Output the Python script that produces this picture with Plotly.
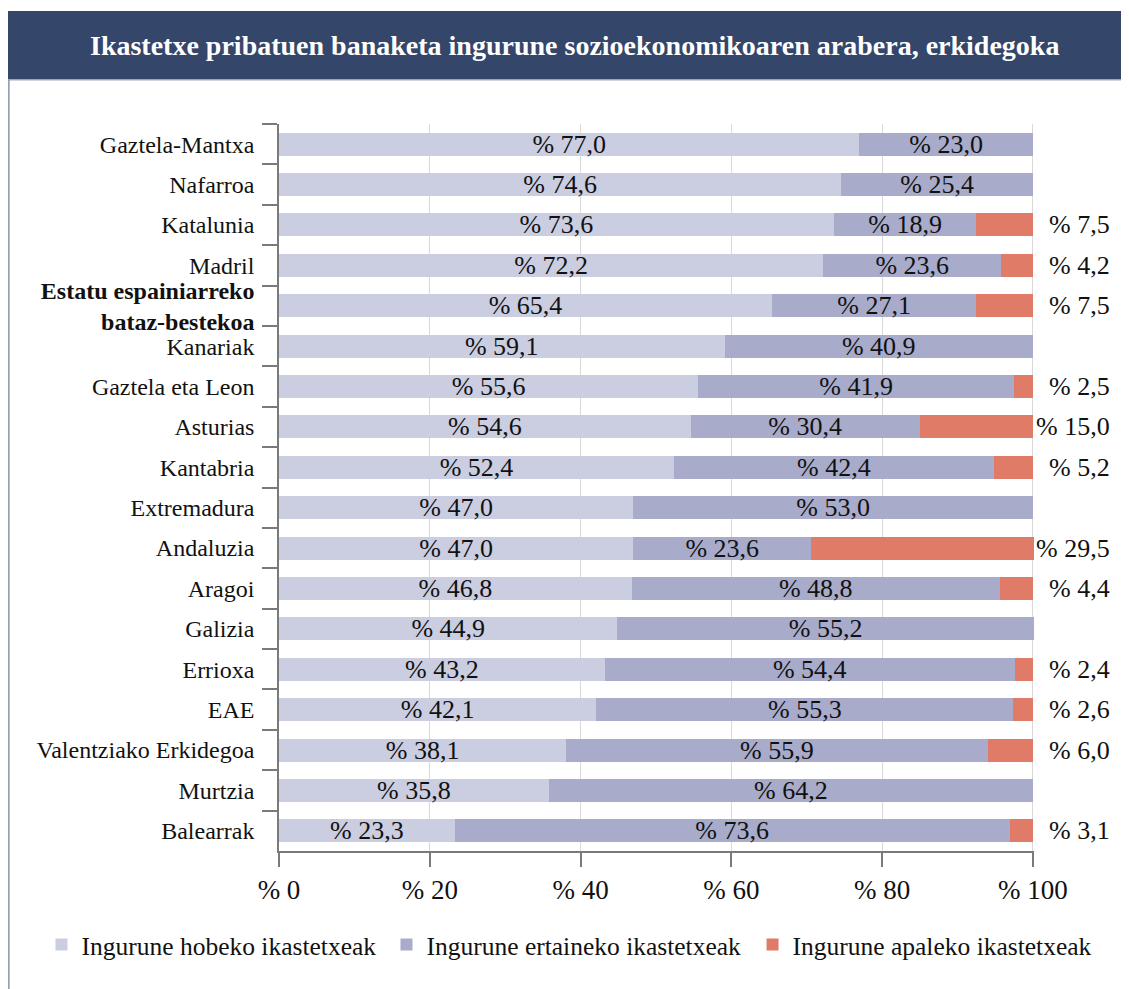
import plotly.graph_objects as go

# -----------------------------------------------------
# Data
# -----------------------------------------------------

regions = [
    "Gaztela-Mantxa",
    "Nafarroa",
    "Katalunia",
    "Madril",
    "<b>Estatu espainiarreko</b><br><b>bataz-bestekoa</b>",
    "Kanariak",
    "Gaztela eta Leon",
    "Asturias",
    "Kantabria",
    "Extremadura",
    "Andaluzia",
    "Aragoi",
    "Galizia",
    "Errioxa",
    "EAE",
    "Valentziako Erkidegoa",
    "Murtzia",
    "Balearrak",
]

hobeko = [77.0, 74.6, 73.6, 72.2, 65.4, 59.1, 55.6, 54.6, 52.4,
          47.0, 47.0, 46.8, 44.9, 43.2, 42.1, 38.1, 35.8, 23.3]
ertaineko = [23.0, 25.4, 18.9, 23.6, 27.1, 40.9, 41.9, 30.4, 42.4,
             53.0, 23.6, 48.8, 55.2, 54.4, 55.3, 55.9, 64.2, 73.6]
apaleko = [0, 0, 7.5, 4.2, 7.5, 0, 2.5, 15.0, 5.2,
           0, 29.5, 4.4, 0, 2.4, 2.6, 6.0, 0, 3.1]

x_ticks = [0, 20, 40, 60, 80, 100]
x_labels = ["% 0", "% 20", "% 40", "% 60", "% 80", "% 100"]

series_names = [
    "Ingurune hobeko ikastetxeak",
    "Ingurune ertaineko ikastetxeak",
    "Ingurune apaleko ikastetxeak",
]

title = "Ikastetxe pribatuen banaketa ingurune sozioekonomikoaren arabera, erkidegoka"

COLORS = ["#cbcde1", "#a8abca", "#e07b67"]
FONT = "Liberation Serif"
INK = "#111111"


def pct(v):
    return "% " + f"{v:.1f}".replace(".", ",")


# -----------------------------------------------------
# Figure
# -----------------------------------------------------

fig = go.Figure()

# legend entry widths for the first legend row
legend_widths = [300, 320]

for vals, name, color, lw in zip(
    [hobeko, ertaineko], series_names[:2], COLORS[:2], legend_widths
):
    fig.add_trace(
        go.Bar(
            y=regions,
            x=vals,
            name=name,
            orientation="h",
            marker=dict(color=color, line=dict(width=0)),
            text=[pct(v) for v in vals],
            textposition="inside",
            insidetextanchor="middle",
            constraintext="none",
            textfont=dict(family=FONT, size=26, color=INK),
            width=0.57,
            cliponaxis=False,
            legendwidth=lw,
            legend="legend",
        )
    )

# third series goes into a second legend box placed on the same row
fig.add_trace(
    go.Bar(
        y=regions,
        x=apaleko,
        name=series_names[2],
        orientation="h",
        marker=dict(color=COLORS[2], line=dict(width=0)),
        width=0.57,
        cliponaxis=False,
        legend="legend2",
    )
)

# red value labels, right of the 100 line
for region, v in zip(regions, apaleko):
    if v > 0:
        fig.add_annotation(
            x=100,
            y=region,
            xref="x",
            yref="y",
            text=pct(v),
            showarrow=False,
            xanchor="right",
            xshift=79,
            font=dict(family=FONT, size=26, color=INK),
        )

# -----------------------------------------------------
# Title banner and frame
# -----------------------------------------------------

fig.add_shape(
    type="rect",
    xref="paper", yref="paper",
    x0=-0.362, x1=1.13,
    y0=1.0605, y1=1.1555,
    fillcolor="#344669",
    line=dict(width=0),
    layer="above",
)

fig.add_shape(
    type="line",
    xref="paper", yref="paper",
    x0=-0.36, x1=1.13,
    y0=1.0605, y1=1.0605,
    line=dict(color="#c4c7d2", width=1.5),
)

fig.add_shape(
    type="line",
    xref="paper", yref="paper",
    x0=-0.3578, x1=-0.3578,
    y0=1.0605, y1=-0.2,
    line=dict(color="#8b93ad", width=1.5),
)

fig.add_annotation(
    xref="paper", yref="paper",
    x=0.392, y=1.108,
    text="<b>" + title + "</b>",
    showarrow=False,
    xanchor="center", yanchor="middle",
    font=dict(family=FONT, size=28, color="white"),
)

# -----------------------------------------------------
# Layout
# -----------------------------------------------------

legend_style = dict(
    orientation="h",
    y=-0.1293,
    xanchor="left",
    yanchor="middle",
    font=dict(family=FONT, size=25.5, color=INK),
    traceorder="normal",
    itemwidth=30,
    bgcolor="rgba(0,0,0,0)",
)

fig.update_layout(
    width=1121,
    height=981,
    barmode="stack",
    paper_bgcolor="white",
    plot_bgcolor="white",
    margin=dict(l=271, r=95, t=116, b=138, autoexpand=False),
    font=dict(family=FONT, size=24, color=INK),
    showlegend=True,
    legend=dict(x=-0.3146, **legend_style),
    legend2=dict(x=0.6272, **legend_style),
)

fig.update_xaxes(
    range=[0, 100.15],
    tickvals=x_ticks,
    ticktext=x_labels,
    tickfont=dict(family=FONT, size=27, color=INK),
    showgrid=True,
    gridcolor="#d9d9d9",
    gridwidth=1,
    showline=True,
    linecolor="#7a7a7a",
    linewidth=1.5,
    ticks="outside",
    ticklen=14,
    tickcolor="#7a7a7a",
    tickwidth=1.5,
    ticklabelstandoff=0,
    zeroline=False,
    fixedrange=True,
)

fig.update_yaxes(
    autorange="reversed",
    tickson="boundaries",
    ticks="outside",
    ticklen=15,
    tickcolor="#7a7a7a",
    tickwidth=1.5,
    showline=True,
    linecolor="#7a7a7a",
    linewidth=1.5,
    showgrid=False,
    tickfont=dict(family=FONT, size=24, color=INK),
    ticklabelstandoff=18,
    fixedrange=True,
)

fig.write_html("out.html")
